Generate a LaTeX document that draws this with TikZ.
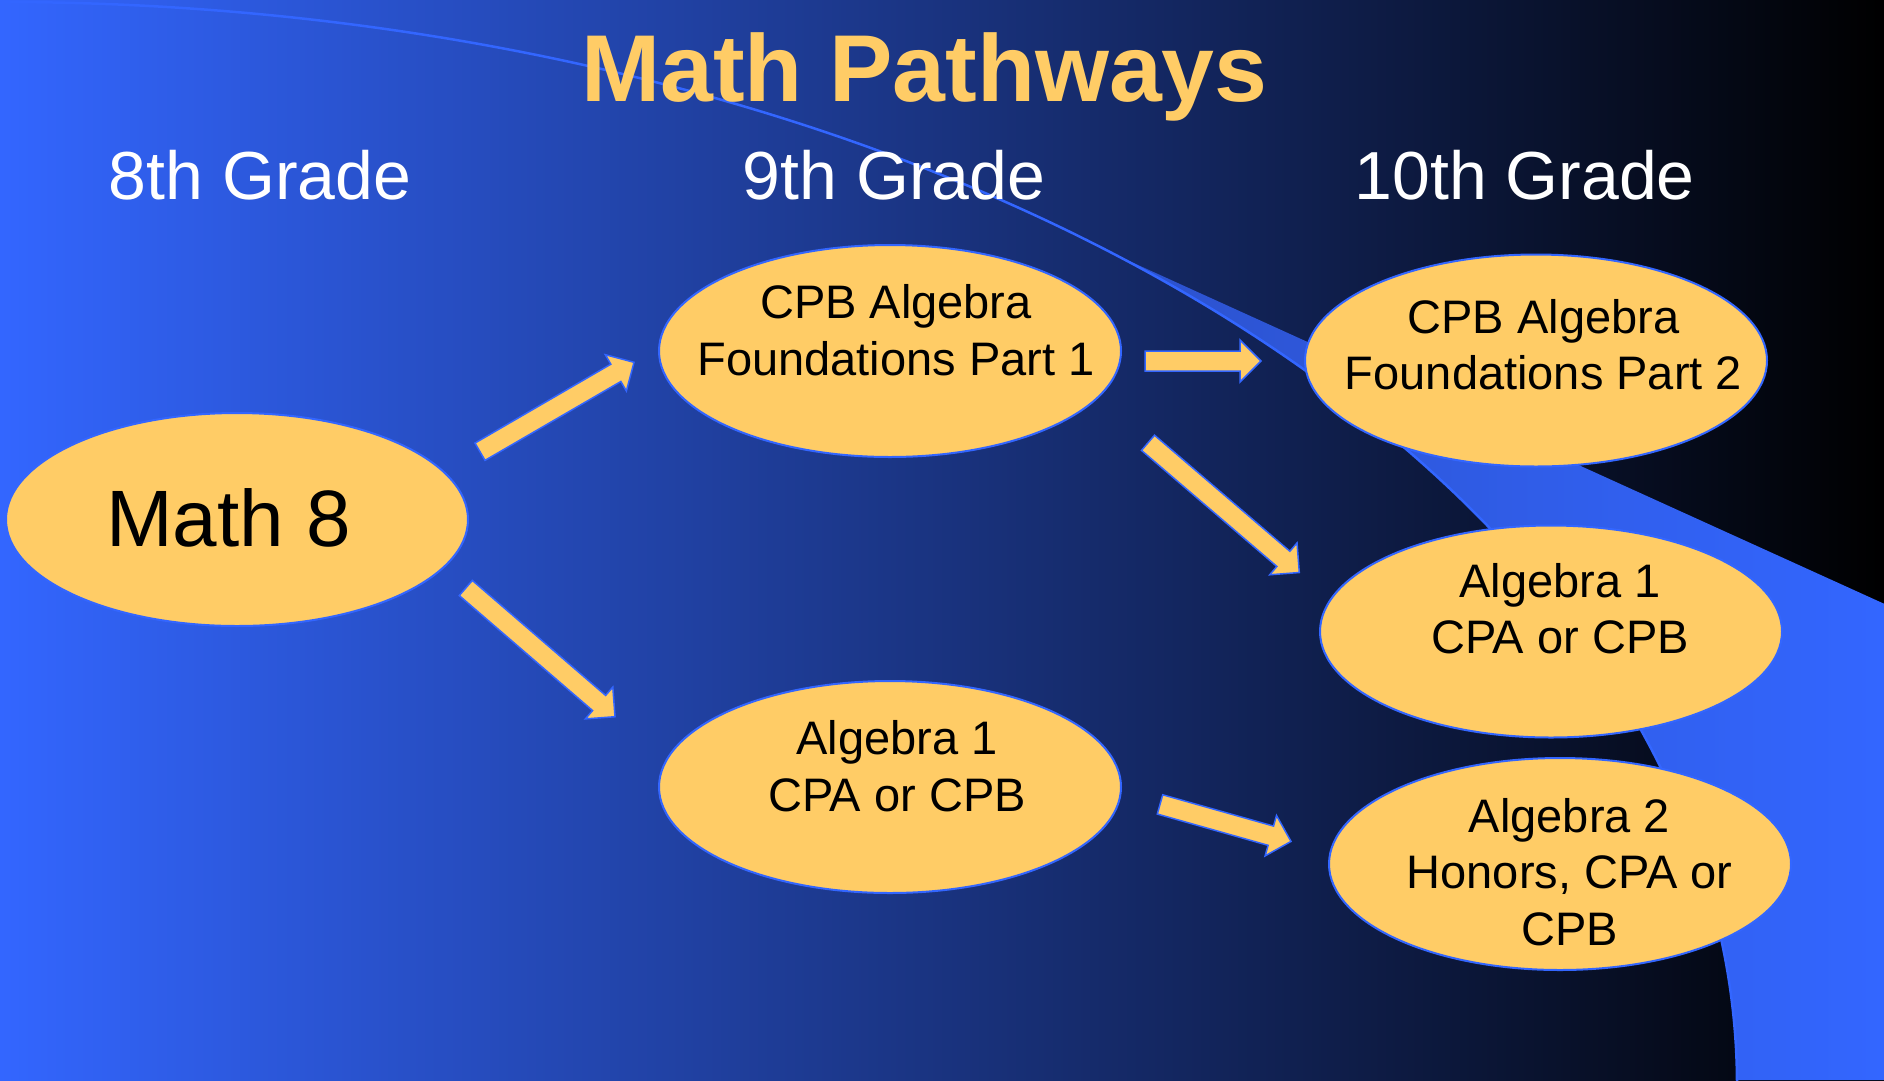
\documentclass[tikz,border=0pt]{standalone}
\usepackage{fontspec}
\setmainfont{Liberation Sans}
\usetikzlibrary{shapes.geometric,calc}
\definecolor{bgblue}{RGB}{51,102,255}
\definecolor{gold}{RGB}{255,204,102}
\definecolor{wedgeL}{RGB}{34,52,131}
\tikzset{
  oval/.style={ellipse, draw=bgblue, line width=2pt, fill=gold,
    minimum width=462pt, minimum height=212pt, inner sep=0pt},
  ovaltext/.style={anchor=base, align=center, inner sep=0pt,
    font=\fontsize{47}{56.5}\selectfont, text=black},
  grade/.style={anchor=base, inner sep=0pt, font=\fontsize{68}{80}\selectfont, text=white},
  blockarrow/.style={draw=bgblue, line width=1.5pt, fill=gold, line join=miter},
  arcline/.style={draw=bgblue, line width=2.5pt},
}
\newcommand\fatarrow[3]{%
  \coordinate (#3h) at ($(#2)!21pt!(#1)$);
  \path[blockarrow] ($(#1)!10pt!90:(#2)$) -- ($(#3h)!10pt!90:(#2)$)
    -- ($(#3h)!21pt!90:(#2)$) -- (#2) -- ($(#3h)!21pt!-90:(#2)$)
    -- ($(#3h)!10pt!-90:(#2)$) -- ($(#1)!10pt!-90:(#2)$) -- cycle;
}
\begin{document}
\begin{tikzpicture}[x=1pt,y=-1pt]
\useasboundingbox (0,0) rectangle (1884,1080);
\clip (0,0) rectangle (1884,1080);
% background
\shade[left color=bgblue, right color=black] (0,0) rectangle (1884,1080);
% wedge
\begin{scope}
  \clip (1000,202.3) -- (1884,603.7) -- (1884,1080) -- (1000,1080) -- cycle;
  \shade[left color=wedgeL, right color=bgblue] (0,0) -- (1884,0) -- (1884,1080) -- (1737,1080)
    arc[start angle=0.26, end angle=90, x radius=1737pt, y radius=1083pt] -- cycle;
\end{scope}
\draw[arcline] (0,2) arc[start angle=90, end angle=-2, x radius=1737pt, y radius=1083pt];
% title and headers
\node[anchor=base, inner sep=0pt, font=\fontsize{95}{114}\selectfont\bfseries, text=gold]
  (title) at (924.5,101) {Math Pathways};
\node[grade] (g8) at (260,199) {8th Grade};
\node[grade] (g9) at (894,199) {9th Grade};
\node[grade] (g10) at (1524.6,199) {10th Grade};
% ovals
\node[oval, minimum height=213pt] (m8) at (237,519.5) {};
\node[oval] (cpb1) at (890,351) {};
\node[oval] (alg1a) at (890,787) {};
\node[oval] (cpb2) at (1536,360.5) {};
\node[oval] (alg1b) at (1551,631.5) {};
\node[oval] (alg2) at (1560,864) {};
% oval texts (base = baseline of last line)
\node[ovaltext, font=\fontsize{80}{96}\selectfont] (m8t) at (228.3,546) {Math 8};
\node[ovaltext] (cpb1t) at (896,375) {CPB Algebra\\Foundations Part 1};
\node[ovaltext] (alg1at) at (897,811) {Algebra 1\\CPA or CPB};
\node[ovaltext] (cpb2t) at (1543.5,389.7) {CPB Algebra\\Foundations Part 2};
\node[ovaltext] (alg1bt) at (1560,653.5) {Algebra 1\\CPA or CPB};
\node[ovaltext] (alg2t) at (1569.5,945) {Algebra 2\\Honors, CPA or\\CPB};
% arrows
\coordinate (a1s) at (480,451.7);   \coordinate (a1e) at (634,362.3);
\coordinate (a2s) at (465.8,588);   \coordinate (a2e) at (615,716.7);
\coordinate (a3s) at (1145,361);    \coordinate (a3e) at (1261,361);
\coordinate (a4s) at (1148,442.8);  \coordinate (a4e) at (1299.3,572.5);
\coordinate (a5s) at (1160,804.4);  \coordinate (a5e) at (1291,841.4);
\fatarrow{a1s}{a1e}{a1}
\fatarrow{a2s}{a2e}{a2}
\fatarrow{a3s}{a3e}{a3}
\fatarrow{a4s}{a4e}{a4}
\fatarrow{a5s}{a5e}{a5}
\end{tikzpicture}
\end{document}
